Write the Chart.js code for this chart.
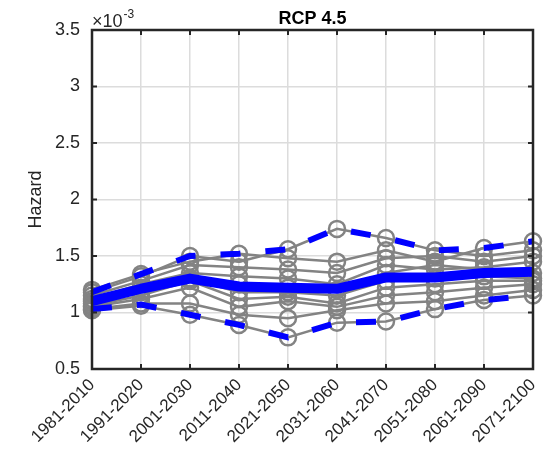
<!DOCTYPE html>
<html>
<head>
<meta charset="utf-8">
<script src="https://cdn.jsdelivr.net/npm/chart.js@4"></script>
<style>
  html, body { margin: 0; padding: 0; background: #ffffff; }
  #wrap { width: 546px; height: 451px; }
</style>
</head>
<body>
<div id="wrap"><canvas id="chart" width="546" height="451"></canvas></div>
<script>
// Hazard per 30-year window, in units of 1e-3 (RCP 4.5 ensemble)
const periods = ['1981-2010', '1991-2020', '2001-2030', '2011-2040', '2021-2050',
                 '2031-2060', '2041-2070', '2051-2080', '2061-2090', '2071-2100'];

const model01 = [1.18, 1.32, 1.50, 1.45, 1.56, 1.74, 1.66, 1.55, 1.50, 1.55];
const model02 = [1.20, 1.34, 1.45, 1.52, 1.48, 1.45, 1.55, 1.45, 1.57, 1.63];
const model03 = [1.15, 1.28, 1.42, 1.40, 1.38, 1.35, 1.48, 1.50, 1.45, 1.50];
const model04 = [1.12, 1.25, 1.35, 1.32, 1.30, 1.25, 1.42, 1.38, 1.40, 1.45];
const model05 = [1.10, 1.22, 1.30, 1.25, 1.22, 1.20, 1.35, 1.42, 1.38, 1.35];
const model06 = [1.08, 1.18, 1.30, 1.18, 1.18, 1.15, 1.28, 1.30, 1.32, 1.30];
const model07 = [1.06, 1.15, 1.28, 1.12, 1.14, 1.08, 1.22, 1.25, 1.28, 1.28];
const model08 = [1.05, 1.12, 1.22, 1.05, 1.10, 1.05, 1.15, 1.18, 1.22, 1.25];
const model09 = [1.03, 1.08, 1.08, 0.98, 0.95, 1.02, 1.08, 1.10, 1.15, 1.20];
const model10 = [1.02, 1.06, 0.98, 0.89, 0.78, 0.91, 0.92, 1.03, 1.11, 1.15];

const ensembleMean  = [1.10, 1.21, 1.30, 1.23, 1.22, 1.21, 1.31, 1.31, 1.35, 1.36];
const ensembleUpper = [1.18, 1.34, 1.50, 1.52, 1.56, 1.74, 1.66, 1.55, 1.57, 1.63];
const ensembleLower = [1.03, 1.07, 0.98, 0.89, 0.78, 0.91, 0.92, 1.03, 1.11, 1.15];

const yTicks = [0.5, 1, 1.5, 2, 2.5, 3, 3.5];
const chartTitle = 'RCP 4.5';
const yTitle = 'Hazard';
const scaleExponent = '-3';

const models = [model01, model02, model03, model04, model05,
                model06, model07, model08, model09, model10];

const FONT = 'Liberation Sans, Arial, Helvetica, sans-serif';
const TEXT = '#262626';
const GRID = '#dcdcdc';
const GRAY = '#838383';
const BLUE = '#0000ff';

const datasets = [];
datasets.push({ label: 'mean', data: ensembleMean, borderColor: BLUE, borderWidth: 10,
  pointRadius: 0, fill: false, tension: 0, order: 0, borderCapStyle: 'butt', borderJoinStyle: 'round' });
datasets.push({ label: 'upper', data: ensembleUpper, borderColor: BLUE, borderWidth: 6,
  borderDash: [20, 25], pointRadius: 0, fill: false, tension: 0, order: 0, borderCapStyle: 'butt' });
datasets.push({ label: 'lower', data: ensembleLower, borderColor: BLUE, borderWidth: 6,
  borderDash: [20, 25], pointRadius: 0, fill: false, tension: 0, order: 0, borderCapStyle: 'butt' });
models.forEach((m, i) => {
  datasets.push({ label: 'model ' + (i + 1), data: m, borderColor: GRAY, borderWidth: 2.5,
    pointStyle: 'circle', pointRadius: 8, pointBorderWidth: 2.5, pointBorderColor: GRAY,
    pointBackgroundColor: 'rgba(0,0,0,0)', fill: false, tension: 0, order: 1 });
});

// axes box, inward ticks, title and exponent label
const frame = {
  id: 'frame',
  afterDraw(chart) {
    const { ctx, chartArea: a, scales } = chart;
    ctx.save();
    ctx.strokeStyle = TEXT;
    ctx.lineWidth = 2.5;
    ctx.strokeRect(a.left, a.top, a.right - a.left, a.bottom - a.top);
    ctx.lineWidth = 2;
    const tl = 5;
    ctx.beginPath();
    periods.forEach((p, i) => {
      const x = scales.x.getPixelForValue(i);
      ctx.moveTo(x, a.bottom); ctx.lineTo(x, a.bottom - tl);
      ctx.moveTo(x, a.top); ctx.lineTo(x, a.top + tl);
    });
    yTicks.forEach(v => {
      const y = scales.y.getPixelForValue(v);
      ctx.moveTo(a.left, y); ctx.lineTo(a.left + tl, y);
      ctx.moveTo(a.right, y); ctx.lineTo(a.right - tl, y);
    });
    ctx.stroke();

    ctx.fillStyle = '#000000';
    ctx.font = 'bold 18px ' + FONT;
    ctx.textAlign = 'center';
    ctx.textBaseline = 'middle';
    ctx.fillText(chartTitle, (a.left + a.right) / 2, 19);

    ctx.fillStyle = TEXT;
    ctx.textAlign = 'left';
    ctx.textBaseline = 'alphabetic';
    ctx.font = '18px ' + FONT;
    const base = '\u00d710';
    ctx.fillText(base, a.left, 27);
    const w = ctx.measureText(base).width;
    ctx.font = '12px ' + FONT;
    ctx.fillText(scaleExponent, a.left + w + 1, 18);
    ctx.restore();
  }
};

new Chart(document.getElementById('chart'), {
  type: 'line',
  data: { labels: periods, datasets },
  options: {
    responsive: false,
    animation: false,
    events: [],
    layout: { padding: { left: 0, right: 13, top: 30, bottom: 0 } },
    plugins: { legend: { display: false }, tooltip: { enabled: false }, title: { display: false } },
    scales: {
      x: {
        type: 'category',
        offset: false,
        border: { display: false },
        grid: { color: GRID, lineWidth: 1.5, drawTicks: false },
        ticks: { color: TEXT, font: { family: FONT, size: 17 }, minRotation: 45, maxRotation: 45,
                 padding: 6, autoSkip: false },
        afterFit(s) { s.height = 82; s.paddingLeft = 0; s.paddingRight = 0; }
      },
      y: {
        min: 0.5, max: 3.5,
        border: { display: false },
        grid: { color: GRID, lineWidth: 1.5, drawTicks: false },
        ticks: { color: TEXT, font: { family: FONT, size: 18 }, stepSize: 0.5, padding: 12,
                 callback: v => String(Number(v.toFixed(2))) },
        title: { display: true, text: yTitle, color: TEXT, font: { family: FONT, size: 18 },
                 padding: { top: 25, bottom: 0 } },
        afterFit(s) { s.width = 92; s.paddingTop = 0; s.paddingBottom = 0; }
      }
    }
  },
  plugins: [frame]
});
</script>
</body>
</html>
